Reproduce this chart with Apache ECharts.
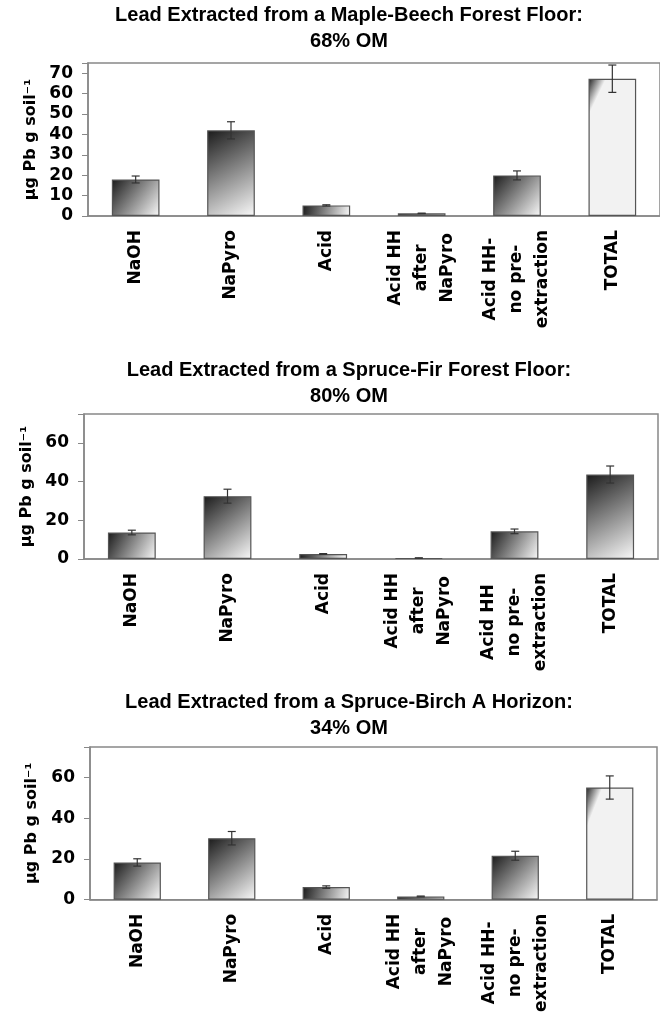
<!DOCTYPE html>
<html>
<head>
<meta charset="utf-8">
<script src="https://cdn.jsdelivr.net/npm/echarts@6/dist/echarts.min.js"></script>
<style>
  html, body { margin: 0; padding: 0; background: #fff; }
  #main { width: 660px; height: 1015px; }
</style>
</head>
<body>
<div id="main"></div>
<script>
// categories
var catsA = ['NaOH', 'NaPyro', 'Acid', 'Acid HH\nafter\nNaPyro', 'Acid HH-\nno pre-\nextraction', 'TOTAL'];
var catsB = ['NaOH', 'NaPyro', 'Acid', 'Acid HH\nafter\nNaPyro', 'Acid HH\nno pre-\nextraction', 'TOTAL'];

// µg Pb g soil-1, means and error bar half widths
var mapleBeech = [17.9, 42.0, 5.2, 1.3, 19.9, 67.3];
var mapleBeechErr = [1.7, 4.2, 0.3, 0.1, 2.2, 6.7];
var spruceFir = [13.7, 32.5, 2.6, 0.5, 14.3, 43.7];
var spruceFirErr = [1.2, 3.6, 0.2, 0.1, 1.2, 4.4];
var spruceBirch = [18.3, 30.2, 6.2, 1.6, 21.6, 55.1];
var spruceBirchErr = [1.8, 3.3, 0.6, 0.2, 2.2, 5.7];

var titles = [
    'Lead Extracted from a Maple-Beech Forest Floor:\n68% OM',
    'Lead Extracted from a Spruce-Fir Forest Floor:\n80% OM',
    'Lead Extracted from a Spruce-Birch A Horizon:\n34% OM'
];
var yMax = [75, 75, 75];
var yStep = [10, 20, 20];

var myChart = echarts.init(document.getElementById('main'));

var axisFont = 'DejaVu Sans';
var grids = [
    {left: 88, top: 63, width: 582, height: 153},
    {left: 84, top: 414, width: 574, height: 145},
    {left: 90, top: 747, width: 567, height: 156}
];
var titleTops = [2, 357, 689];
var nameGaps = [48, 42, 50];

function barFill(light) {
    if (light) {
        // tall TOTAL bar: dark only in the top-left corner
        return new echarts.graphic.LinearGradient(0, 0, 0.3, 0.05, [
            {offset: 0, color: '#1e1e1e'},
            {offset: 1, color: '#f2f2f2'}
        ]);
    }
    return new echarts.graphic.LinearGradient(0, 0, 1, 1, [
        {offset: 0, color: '#1a1a1a'},
        {offset: 0.5, color: '#8a8a8a'},
        {offset: 1, color: '#fafafa'}
    ]);
}

function barData(vals, lightTotal) {
    return vals.map(function (v, i) {
        return {value: v, itemStyle: {color: barFill(lightTotal && i === vals.length - 1)}};
    });
}

function errData(vals, errs) {
    return vals.map(function (v, i) {
        return [i, v - errs[i], v + errs[i]];
    });
}

function renderErr(params, api) {
    var lo = api.coord([api.value(0), api.value(1)]);
    var hi = api.coord([api.value(0), api.value(2)]);
    var half = 4;
    var st = {stroke: '#333', lineWidth: 1.2};
    return {
        type: 'group',
        children: [
            {type: 'line', shape: {x1: lo[0], y1: lo[1], x2: hi[0], y2: hi[1]}, style: st},
            {type: 'line', shape: {x1: lo[0] - half, y1: hi[1], x2: lo[0] + half, y2: hi[1]}, style: st},
            {type: 'line', shape: {x1: lo[0] - half, y1: lo[1], x2: lo[0] + half, y2: lo[1]}, style: st}
        ]
    };
}

function catLabel(v) {
    return v.split('\n').map(function (s) { return '{c|' + s + '}'; }).join('\n');
}

var allCats = [catsA, catsB, catsA];
var allVals = [mapleBeech, spruceFir, spruceBirch];
var allErrs = [mapleBeechErr, spruceFirErr, spruceBirchErr];
var lightTotal = [true, false, true];

var option = {
    backgroundColor: '#fff',
    animation: false,
    title: [],
    grid: [],
    xAxis: [],
    yAxis: [],
    series: []
};

for (var k = 0; k < 3; k++) {
    option.title.push({
        text: titles[k],
        left: 349,
        top: titleTops[k],
        textAlign: 'center',
        padding: 0,
        textStyle: {
            fontFamily: 'Liberation Sans',
            fontSize: 20,
            fontWeight: 'bold',
            lineHeight: 26,
            color: '#000'
        }
    });
    option.grid.push({
        left: grids[k].left,
        top: grids[k].top,
        width: grids[k].width,
        height: grids[k].height,
        show: true,
        borderColor: '#888',
        borderWidth: 1.5,
        backgroundColor: '#fff'
    });
    option.xAxis.push({
        type: 'category',
        gridIndex: k,
        data: allCats[k],
        axisLine: {lineStyle: {color: '#888', width: 1.5}},
        axisTick: {length: 6, lineStyle: {color: '#888'}},
        axisLabel: {
            rotate: 90,
            margin: 14,
            interval: 0,
            color: '#000',
            fontFamily: axisFont,
            fontWeight: 'bold',
            fontSize: 17,
            lineHeight: 26,
            formatter: catLabel,
            rich: {
                c: {align: 'center', fontFamily: axisFont, fontWeight: 'bold', fontSize: 17, lineHeight: 26, color: '#000'}
            }
        }
    });
    (function (step) {
        option.yAxis.push({
            type: 'value',
            gridIndex: k,
            min: 0,
            max: yMax[k],
            interval: step,
            name: 'µg Pb g soil⁻¹',
            nameLocation: 'middle',
            nameGap: nameGaps[k],
            nameTextStyle: {fontFamily: axisFont, fontWeight: 'bold', fontSize: 16, color: '#000'},
            axisLine: {show: true, lineStyle: {color: '#888', width: 1.5}},
            axisTick: {show: true, length: 6, lineStyle: {color: '#888'}},
            splitLine: {show: false},
            axisLabel: {
                margin: 15,
                color: '#000',
                fontFamily: axisFont,
                fontWeight: 'bold',
                fontSize: 17,
                formatter: function (v) { return v % step === 0 ? v : ''; }
            }
        });
    })(yStep[k]);
    option.series.push({
        type: 'bar',
        xAxisIndex: k,
        yAxisIndex: k,
        barWidth: '50%',
        itemStyle: {borderColor: '#555', borderWidth: 1.2},
        data: barData(allVals[k], lightTotal[k])
    });
    option.series.push({
        type: 'custom',
        xAxisIndex: k,
        yAxisIndex: k,
        renderItem: renderErr,
        encode: {x: 0, y: [1, 2]},
        z: 5,
        data: errData(allVals[k], allErrs[k])
    });
}

myChart.setOption(option);
</script>
</body>
</html>
